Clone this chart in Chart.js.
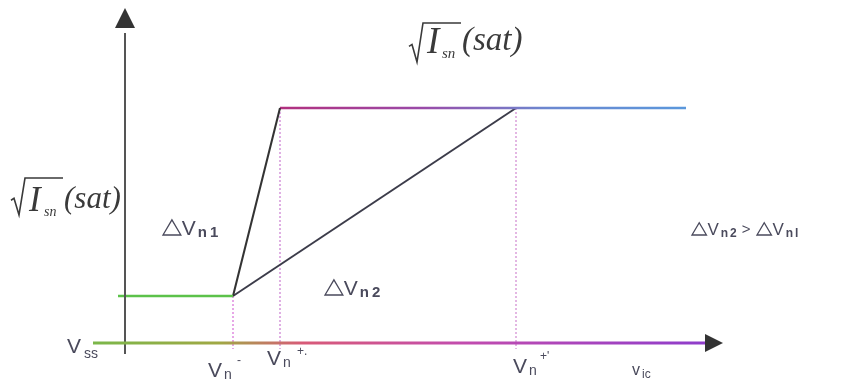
<!DOCTYPE html>
<html>
<head>
<meta charset="utf-8">
<script src="https://cdn.jsdelivr.net/npm/chart.js@4/dist/chart.umd.min.js"></script>
<style>
  html, body { margin: 0; padding: 0; background: #fff; }
  #wrap { width: 842px; height: 385px; position: relative; }
</style>
</head>
<body>
<div id="wrap"><canvas id="transfer"></canvas></div>
<script>
// transfer curve of sqrt(Isn) vs input common-mode voltage (schematic units)
const markNames = ['n-', 'n+.', "n+'"];
const markX = [1.08, 1.55, 3.91];          // Vn-, Vn+ (steep), Vn+' (shallow)
const levelY = [0.47, 2.35];               // off level, saturation level
const spanX = [-0.07, 5.61];               // start of low level, end of saturation line
const axisX = [-0.32, 5.85];               // horizontal axis extent (arrow added on top)
const axisY = [-0.11, 3.1];                // vertical axis extent

const ink = '#3a3a3a';
const labelInk = '#4a4a5c';

function hGradient(chart, stops) {
  const g = chart.ctx.createLinearGradient(0, 0, chart.width, 0);
  stops.forEach(s => g.addColorStop(s[0], s[1]));
  return g;
}

const seg = (pts, color, width, dash) => ({
  data: pts.map(p => ({ x: p[0], y: p[1] })),
  borderColor: color,
  borderWidth: width,
  borderDash: dash || [],
  pointRadius: 0,
  showLine: true,
  fill: false,
  tension: 0
});

const datasets = [
  seg([[axisX[0], 0], [axisX[1], 0]], ctx => hGradient(ctx.chart, [
    [0.10, '#78b84a'], [0.26, '#a0a844'], [0.36, '#d85a78'], [0.55, '#c24cae'], [0.85, '#8c3ccc']
  ]), 3),
  seg([[0, axisY[0]], [0, axisY[1]]], '#555', 2),
  seg([[spanX[0], levelY[0]], [markX[0], levelY[0]]], '#5cc24a', 2.5),
  seg([[markX[0], levelY[0]], [markX[1], levelY[1]]], '#333', 2),
  seg([[markX[1], levelY[1]], [spanX[1], levelY[1]]], ctx => hGradient(ctx.chart, [
    [0.33, '#b2307e'], [0.50, '#9a4aa8'], [0.65, '#6c88d0'], [0.82, '#5a98dc']
  ]), 2.5),
  seg([[markX[0], levelY[0]], [markX[2], levelY[1]]], '#3c3c4a', 2),
  seg([[markX[0], levelY[0]], [markX[0], -0.06]], '#d050d0', 1, [2, 2]),
  seg([[markX[1], levelY[1]], [markX[1], -0.06]], '#c060c8', 1, [2, 2]),
  seg([[markX[2], levelY[1]], [markX[2], -0.06]], '#c870c8', 1, [2, 2])
];

// radical sign with overline, italic I_sn and (sat)
function sqrtLabel(ctx, x, top, bottom, base, size) {
  const h = bottom - top;
  ctx.save();
  ctx.strokeStyle = ink;
  ctx.fillStyle = ink;
  ctx.lineWidth = 1.6;
  ctx.lineJoin = 'miter';
  ctx.beginPath();
  ctx.moveTo(x, top + h * 0.6);
  ctx.lineTo(x + 3, top + h * 0.55);
  ctx.lineTo(x + 8, bottom);
  ctx.lineTo(x + 14, top);
  ctx.lineTo(x + 52, top);
  ctx.stroke();
  ctx.font = `italic ${size + 4}px "Liberation Serif"`;
  ctx.fillText('I', x + 18, base + 3);
  ctx.font = `italic ${Math.round(size * 0.45)}px "Liberation Serif"`;
  ctx.fillText('sn', x + 33, base + 8);
  ctx.font = `italic ${size}px "Liberation Serif"`;
  ctx.fillText('(sat)', x + 53, base);
  ctx.restore();
}

// outlined triangle followed by V and a subscript
function deltaLabel(ctx, x, base, size, sub) {
  const tw = size * 0.85, th = size * 0.72;
  ctx.save();
  ctx.strokeStyle = labelInk;
  ctx.lineWidth = 1.3;
  ctx.beginPath();
  ctx.moveTo(x, base);
  ctx.lineTo(x + tw / 2, base - th);
  ctx.lineTo(x + tw, base);
  ctx.closePath();
  ctx.stroke();
  ctx.fillStyle = labelInk;
  ctx.font = `${size}px "Liberation Sans"`;
  ctx.fillText('V', x + tw + 1, base);
  const vx = x + tw + 1 + ctx.measureText('V').width + 2;
  ctx.font = `bold ${Math.round(size * 0.72)}px "Liberation Sans"`;
  ctx.letterSpacing = `${Math.round(size * 0.12)}px`;
  ctx.fillText(sub, vx, base + 2);
  const end = vx + ctx.measureText(sub).width;
  ctx.restore();
  return end;
}

const decor = {
  id: 'decor',
  afterDatasetsDraw(chart) {
    const { ctx, scales: { x, y } } = chart;
    const ox = x.getPixelForValue(0), oy = y.getPixelForValue(0);
    const tipX = x.getPixelForValue(5.98), tipY = y.getPixelForValue(3.35);

    // arrowheads
    ctx.save();
    ctx.fillStyle = '#333';
    ctx.beginPath();
    ctx.moveTo(ox, tipY);
    ctx.lineTo(ox - 10, tipY + 20);
    ctx.lineTo(ox + 10, tipY + 20);
    ctx.closePath();
    ctx.fill();
    ctx.beginPath();
    ctx.moveTo(tipX, oy);
    ctx.lineTo(tipX - 18, oy - 9);
    ctx.lineTo(tipX - 18, oy + 9);
    ctx.closePath();
    ctx.fill();

    // curve labels
    sqrtLabel(ctx, 11, 178, 215, 208, 31);
    sqrtLabel(ctx, 409, 23, 62, 50, 33);
    deltaLabel(ctx, 163, 235, 21, 'n1');
    deltaLabel(ctx, 325, 295, 21, 'n2');
    const e = deltaLabel(ctx, 692, 235, 17, 'n2');
    ctx.fillStyle = labelInk;
    ctx.font = '15px "Liberation Sans"';
    ctx.fillText('>', e + 3, 234);
    deltaLabel(ctx, 757, 235, 17, 'nl');

    // axis labels
    ctx.fillStyle = labelInk;
    ctx.font = '21px "Liberation Sans"';
    ctx.fillText('V', 67, 353);
    ctx.font = '14px "Liberation Sans"';
    ctx.fillText('ss', 84, 358);

    const vOff = [-25, -13, -3];
    const baseY = [377, 365, 373];
    const subX = [29, 30, 27];
    const supY = [364, 355, 360];
    markX.forEach((v, i) => {
      const px = x.getPixelForValue(v) + vOff[i];
      ctx.font = '21px "Liberation Sans"';
      ctx.fillText('V', px, baseY[i]);
      ctx.font = '14px "Liberation Sans"';
      ctx.fillText(markNames[i].charAt(0), px + 16, baseY[i] + 2);
      ctx.font = '12px "Liberation Sans"';
      ctx.fillText(markNames[i].slice(1), px + subX[i], supY[i]);
    });

    ctx.font = '16px "Liberation Sans"';
    ctx.fillText('v', 632, 375);
    ctx.font = '12px "Liberation Sans"';
    ctx.fillText('ic', 642, 378);
    ctx.restore();
  }
};

new Chart(document.getElementById('transfer'), {
  type: 'scatter',
  data: { datasets },
  options: {
    responsive: true,
    maintainAspectRatio: false,
    animation: false,
    layout: { padding: 0 },
    plugins: { legend: { display: false }, tooltip: { enabled: false } },
    scales: {
      x: { type: 'linear', display: false, min: -1.25, max: 7.17 },
      y: { type: 'linear', display: false, min: -0.42, max: 3.43 }
    }
  },
  plugins: [decor]
});
</script>
</body>
</html>
